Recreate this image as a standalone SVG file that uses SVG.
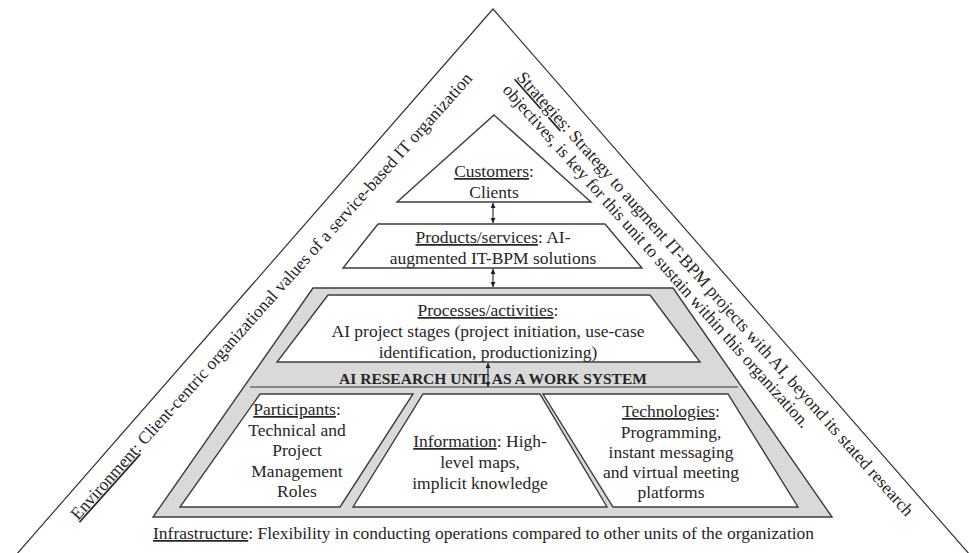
<svg xmlns="http://www.w3.org/2000/svg" width="970" height="553" viewBox="0 0 970 553">
<defs>
<style>
text{font-family:"Liberation Serif","Times New Roman",serif;font-size:17.5px;fill:#262626}
.c{text-anchor:middle}
.u{text-decoration:underline}
.b{font-weight:bold;font-size:15.5px}
.box{fill:#fff;stroke:#3c3c3c;stroke-width:1.4}
.gray{fill:#d9d9d9;stroke:#3c3c3c;stroke-width:1.4}
.edge{fill:none;stroke:#333;stroke-width:1.2}
.arr{stroke:#222;stroke-width:1.1;marker-start:url(#ah);marker-end:url(#ah)}
</style>
<marker id="ah" viewBox="0 0 10 10" refX="10" refY="5" markerWidth="5" markerHeight="5" markerUnits="userSpaceOnUse" orient="auto-start-reverse">
<path d="M0,0 L10,5 L0,10 Z" fill="#222"/>
</marker>
</defs>
<rect width="970" height="553" fill="#fff"/>

<g id="environment">
<path class="edge" d="M9,563 L493,9 L977,563"/>
<text transform="translate(78,521) rotate(-48.2)"><tspan class="u">Environment</tspan>: Client-centric organizational values of a service-based IT organization</text>
</g>

<g id="strategies">
<text transform="translate(516,78) rotate(48.4)"><tspan x="0" y="0"><tspan class="u">Strategies</tspan>: Strategy to augment IT-BPM projects with AI, beyond its stated research</tspan><tspan x="0" y="19">objectives, is key for this unit to sustain within this organization.</tspan></text>
</g>

<g id="work-system">
<path class="gray" d="M313,288 L673,288 L832,517 L153,517 Z"/>
<line x1="250" y1="387" x2="738" y2="387" stroke="#6a6a6a" stroke-width="1.5"/>
<text class="c b" x="493" y="384">AI RESEARCH UNIT AS A WORK SYSTEM</text>
</g>

<g id="customers">
<path class="box" d="M494,115 L591,202 L397,202 Z"/>
<text class="c" x="494" y="177"><tspan class="u">Customers</tspan>:</text>
<text class="c" x="494" y="198">Clients</text>
</g>

<g id="products">
<path class="box" d="M378,224 L605,224 L642,268 L343,268 Z"/>
<text class="c" x="493" y="243"><tspan class="u">Products/services</tspan>: AI-</text>
<text class="c" x="493" y="264">augmented IT-BPM solutions</text>
</g>

<g id="processes">
<path class="box" d="M328,295 L650,295 L700,362 L277,362 Z"/>
<text class="c" x="488" y="316"><tspan class="u">Processes/activities</tspan>:</text>
<text class="c" x="488" y="337">AI project stages (project initiation, use-case</text>
<text class="c" x="488" y="358">identification, productionizing)</text>
</g>

<g id="participants">
<path class="box" d="M260,394 L413,394 L340,507 L180,507 Z"/>
<text class="c" x="297" y="415"><tspan class="u">Participants</tspan>:</text>
<text class="c" x="297" y="435.5">Technical and</text>
<text class="c" x="297" y="456">Project</text>
<text class="c" x="297" y="476.5">Management</text>
<text class="c" x="297" y="497">Roles</text>
</g>

<g id="information">
<path class="box" d="M423,394 L540,394 L607,507 L353,507 Z"/>
<text class="c" x="480" y="447"><tspan class="u">Information</tspan>: High-</text>
<text class="c" x="480" y="468">level maps,</text>
<text class="c" x="480" y="489">implicit knowledge</text>
</g>

<g id="technologies">
<path class="box" d="M543,394 L728,394 L798,507 L613,507 Z"/>
<text class="c" x="671" y="417"><tspan class="u">Technologies</tspan>:</text>
<text class="c" x="671" y="437.5">Programming,</text>
<text class="c" x="671" y="458">instant messaging</text>
<text class="c" x="671" y="478">and virtual meeting</text>
<text class="c" x="671" y="498">platforms</text>
</g>

<g id="infrastructure">
<text x="153" y="539"><tspan class="u">Infrastructure</tspan>: Flexibility in conducting operations compared to other units of the organization</text>
</g>

<g id="connectors">
<line class="arr" x1="493" y1="203" x2="493" y2="223"/>
<line class="arr" x1="493" y1="269" x2="493" y2="287"/>
<line class="arr" x1="488" y1="363" x2="488" y2="387"/>
</g>
</svg>
